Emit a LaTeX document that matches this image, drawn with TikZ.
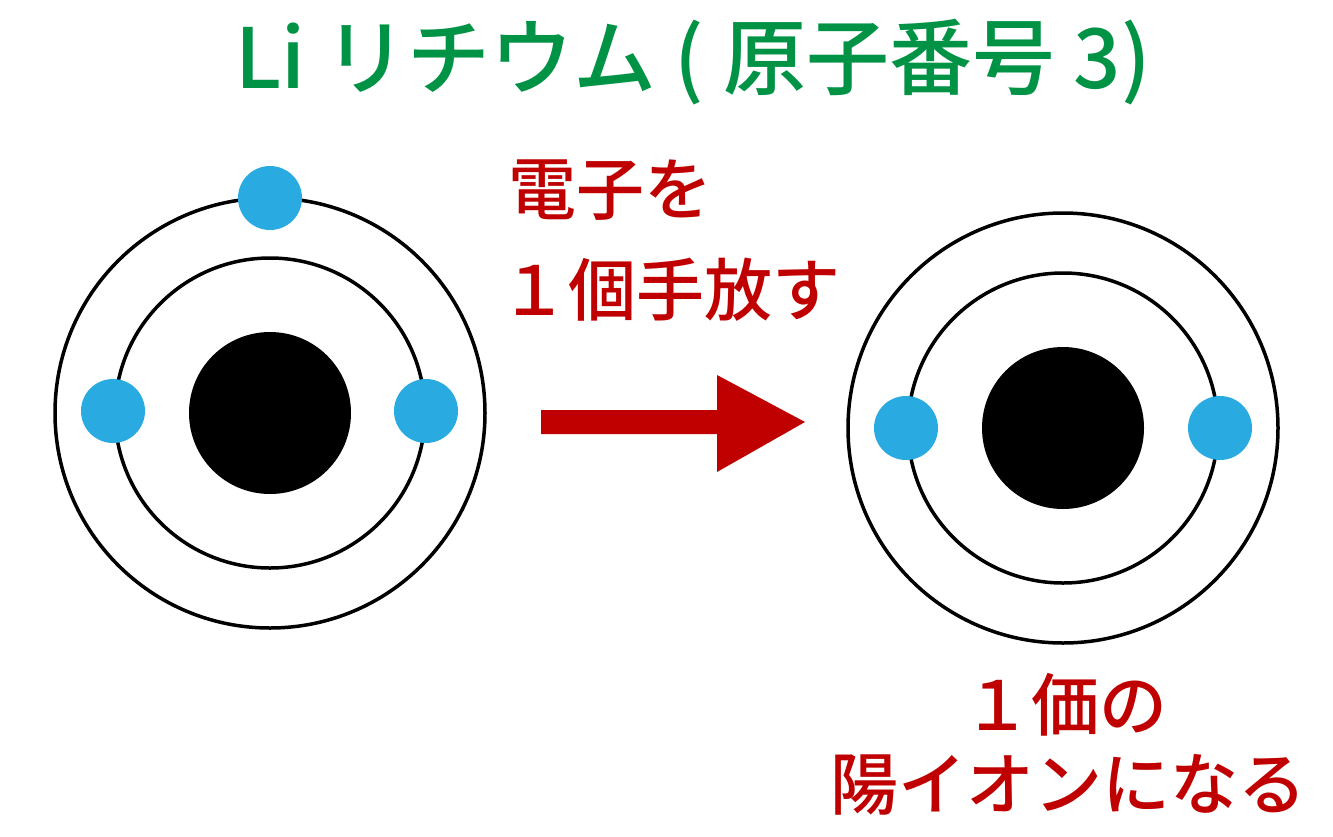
\documentclass[tikz,border=0pt]{standalone}
\usepackage{fontspec}
\newfontfamily\cjkm{Noto Sans CJK JP Medium}
\definecolor{tgreen}{RGB}{0,146,69}
\definecolor{tred}{RGB}{192,0,0}
\definecolor{eblue}{RGB}{41,171,226}
\begin{document}
\begin{tikzpicture}[x=1pt,y=-1pt,
  orbit/.style={draw=black,line width=3.5pt},
  nucleus/.style={fill=black},
  electron/.style={fill=eblue},
  lbl/.style={font=\cjkm\fontsize{68}{72}\selectfont,text=tred,inner sep=0pt}]
\useasboundingbox (0,0) rectangle (1333,836);
\node[font=\cjkm\fontsize{83}{86}\selectfont,text=tgreen,inner sep=0pt] (title) at (693,62) {Li リチウム ( 原子番号 3)};
% left atom
\coordinate (L) at (270,413);
\draw[orbit] (L) circle (215);
\draw[orbit] (L) circle (155);
\fill[nucleus] (L) circle (81);
\fill[electron] (270,198) circle (32);
\fill[electron] (113,411) circle (32);
\fill[electron] (426,411) circle (32);
% right atom
\coordinate (R) at (1063,428);
\draw[orbit] (R) circle (215);
\draw[orbit] (R) circle (155);
\fill[nucleus] (R) circle (81);
\fill[electron] (906,428) circle (32);
\fill[electron] (1220,428) circle (32);
% arrow
\fill[tred] (541,410) -- (717,410) -- (717,375) -- (805,422) -- (717,472) -- (717,434) -- (541,434) -- cycle;
\node[lbl] (t1) at (610,190) {電子を};
\node[lbl] (t2) at (670,290) {１個手放す};
\node[lbl] (t3) at (1065,705) {１価の};
\node[lbl] (t4) at (1068,785) {陽イオンになる};
\end{tikzpicture}
\end{document}
